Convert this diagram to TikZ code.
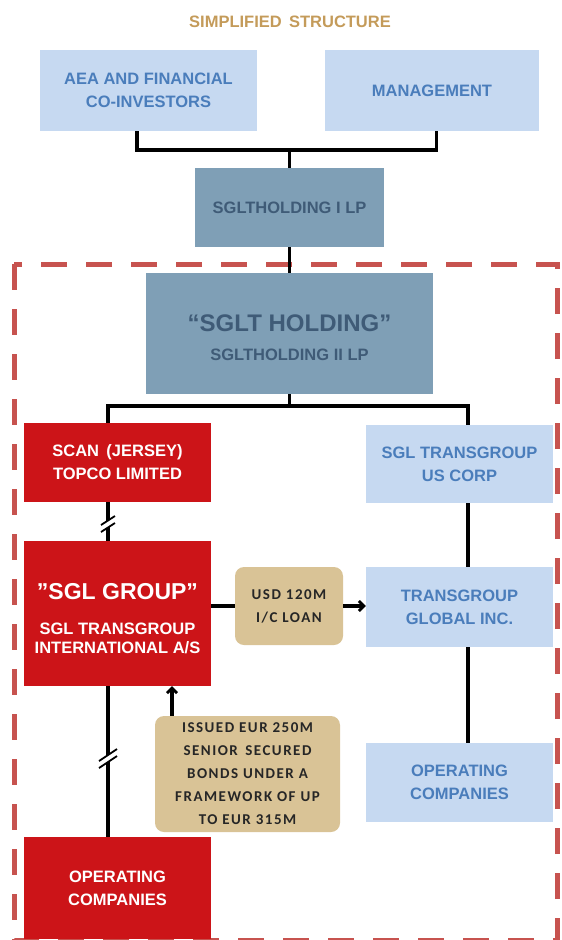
\documentclass[tikz,border=0pt]{standalone}
\usepackage{fontspec}
\setmainfont{Liberation Sans}
\newfontfamily\tanfont[LetterSpace=10]{Carlito}
\usetikzlibrary{arrows.meta,calc}
\definecolor{lblue}{HTML}{C6D9F1}
\definecolor{btext}{HTML}{4A7DBB}
\definecolor{steel}{HTML}{7F9FB6}
\definecolor{steeltext}{HTML}{3F5B77}
\definecolor{sred}{HTML}{CC1418}
\definecolor{tan}{HTML}{D9C396}
\definecolor{dred}{HTML}{C7534F}
\definecolor{ttl}{HTML}{C49B5A}
\tikzset{
  bx/.style={inner sep=0pt, align=center, font=\bfseries\fontsize{16.5}{23}\selectfont},
  bluebox/.style={bx, fill=lblue, text=btext},
  steelbox/.style={bx, fill=steel, text=steeltext},
  redbox/.style={bx, fill=sred, text=white},
  tanbox/.style={inner sep=0pt, align=center, fill=tan, rounded corners=9pt, text=black!85, font=\tanfont\bfseries\fontsize{15}{23}\selectfont},
  conn/.style={line width=3.2pt, black},
  arr/.style={conn, -{Straight Barb[length=5pt,width=10pt,line width=2.8pt]}},
  brk/.style={line width=1.8pt, black}
}
\begin{document}
\begin{tikzpicture}[x=1pt,y=-1pt]
\useasboundingbox (0,0) rectangle (562,940);
% title
\node[font=\bfseries\fontsize{16.5}{18}\selectfont, text=ttl] (title) at (290,22) {SIMPLIFIED\, STRUCTURE};
% dashed boundary
\draw[dred, line width=5pt, dash pattern=on 26pt off 19pt] (14,264) rectangle (557,940);
% nodes
\node[bluebox, minimum width=217pt, minimum height=81pt] (aea) at (148.5,90.5) {AEA AND FINANCIAL\\CO-INVESTORS};
\node[bluebox, minimum width=214pt, minimum height=81pt] (mgmt) at (432,90.5) {MANAGEMENT};
\node[steelbox, minimum width=189pt, minimum height=79pt] (h1) at (289.5,207.5) {SGLTHOLDING I LP};
\node[steelbox, minimum width=287pt, minimum height=121pt] (h2) at (289.5,333.5) {{\fontsize{24}{26}\selectfont\rule{0pt}{26pt}“SGLT HOLDING”}\\[6pt]SGLTHOLDING II LP};
\node[redbox, minimum width=187pt, minimum height=79pt] (scan) at (117.5,462.5) {SCAN\, (JERSEY)\\TOPCO LIMITED};
\node[bluebox, minimum width=187pt, minimum height=78pt] (us) at (459.5,464) {SGL TRANSGROUP\\US CORP};
\node[redbox, minimum width=187pt, minimum height=145pt] (sglg) at (117.5,613.5) {{\fontsize{23}{26}\selectfont\rule{0pt}{27pt}”SGL GROUP”}\\[12pt]SGL TRANSGROUP\\[-4pt]INTERNATIONAL A/S};
\node[bluebox, minimum width=187pt, minimum height=80pt] (tg) at (459.5,607) {TRANSGROUP\\GLOBAL INC.};
\node[bluebox, minimum width=187pt, minimum height=79pt] (boc) at (459.5,782.5) {OPERATING\\COMPANIES};
\node[redbox, minimum width=187pt, minimum height=102pt] (roc) at (117.5,888) {OPERATING\\COMPANIES};
\node[tanbox, minimum width=108pt, minimum height=78pt] (loan) at (289,606) {USD 120M\\I/C LOAN};
\node[tanbox, minimum width=185pt, minimum height=116pt] (bond) at (247.5,774) {ISSUED EUR 250M\\SENIOR\, SECURED\\BONDS UNDER A\\FRAMEWORK OF UP\\TO EUR 315M};
% top tree
\coordinate (j1) at (289.5,150);
\draw[conn] ([xshift=-11.5pt]aea.south) |- (j1) -| ([xshift=4.5pt]mgmt.south);
\draw[conn] (j1) -- (h1.north);
\draw[conn] (h1.south) -- (h2.north);
\coordinate (j2) at (289.5,406);
\draw[conn] (h2.south) -- (j2);
\draw[conn] ([xshift=-9.5pt]scan.north) |- (j2) -| ([xshift=8.5pt]us.north);
% right chain
\draw[conn] ([xshift=8.5pt]us.south) -- ([xshift=8.5pt]tg.north);
\draw[conn] ([xshift=8.5pt]tg.south) -- ([xshift=8.5pt]boc.north);
% left chain
\draw[conn] ([xshift=-9.5pt]scan.south) -- ([xshift=-9.5pt]sglg.north);
\draw[conn] ([xshift=-9.5pt]sglg.south) -- ([xshift=-9.5pt]roc.north);
% loan
\draw[conn] (sglg.east |- loan.west) -- (loan.west);
\draw[arr] (loan.east) -- (tg.west |- loan.east);
% bond
\draw[arr] (bond.north -| 172,0) -- (sglg.south -| 172,0);
% break marks
\coordinate (b1) at (108,524);
\fill[white] ($(b1)+(-7,1)$) -- ($(b1)+(7,-8)$) -- ($(b1)+(7,-1)$) -- ($(b1)+(-7,8)$) -- cycle;
\draw[brk] ($(b1)+(-7,1)$) -- ($(b1)+(7,-8)$);
\draw[brk] ($(b1)+(-7,8)$) -- ($(b1)+(7,-1)$);
\coordinate (b2) at (108,759);
\fill[white] ($(b2)+(-9,2)$) -- ($(b2)+(9,-10)$) -- ($(b2)+(9,-3)$) -- ($(b2)+(-9,9)$) -- cycle;
\draw[brk] ($(b2)+(-9,2)$) -- ($(b2)+(9,-10)$);
\draw[brk] ($(b2)+(-9,9)$) -- ($(b2)+(9,-3)$);
\end{tikzpicture}
\end{document}
